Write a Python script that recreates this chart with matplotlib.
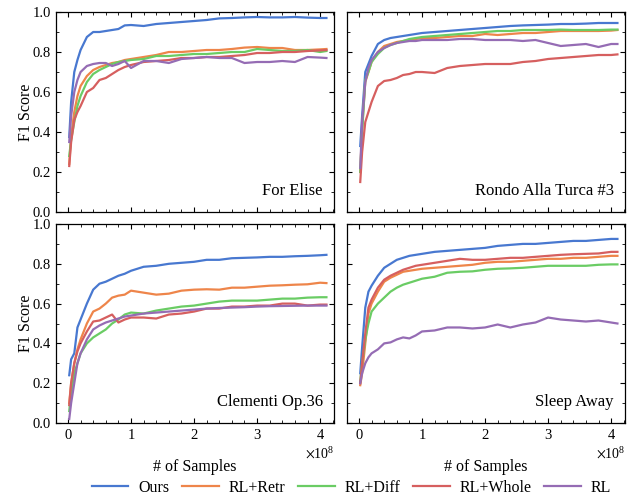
import matplotlib
matplotlib.use("Agg")
import matplotlib.pyplot as plt
from matplotlib.ticker import MultipleLocator, ScalarFormatter
from matplotlib.lines import Line2D

# x positions (in units of 1e8 samples)
steps = [0.02, 0.05, 0.1, 0.15, 0.2, 0.3, 0.4, 0.5, 0.6, 0.7, 0.8, 0.9, 1.0,
         1.2, 1.4, 1.6, 1.8, 2.0, 2.2, 2.4, 2.6, 2.8, 3.0, 3.2, 3.4, 3.6, 3.8, 4.0, 4.1]

methods = ["Ours", "RL+Retr", "RL+Diff", "RL+Whole", "RL"]
colors = ["#4878d0", "#ee854a", "#6acc64", "#d65f5f", "#956cb4"]
titles = ["For Elise", "Rondo Alla Turca #3", "Clementi Op.36", "Sleep Away"]

elise_ours = [0.375, 0.55, 0.70, 0.76, 0.81, 0.875, 0.90, 0.90, 0.905, 0.91, 0.915, 0.933, 0.935,
              0.93, 0.94, 0.945, 0.95, 0.955, 0.96, 0.968, 0.97, 0.973, 0.975, 0.973, 0.973, 0.975, 0.972, 0.97, 0.97]
elise_retr = [0.24, 0.38, 0.50, 0.58, 0.63, 0.68, 0.71, 0.725, 0.735, 0.745, 0.75, 0.76, 0.765,
              0.775, 0.785, 0.80, 0.80, 0.805, 0.81, 0.81, 0.815, 0.822, 0.825, 0.82, 0.82, 0.81, 0.81, 0.813, 0.815]
elise_diff = [0.28, 0.36, 0.45, 0.53, 0.58, 0.65, 0.69, 0.71, 0.725, 0.74, 0.75, 0.755, 0.76,
              0.765, 0.78, 0.78, 0.785, 0.79, 0.79, 0.795, 0.80, 0.80, 0.815, 0.81, 0.805, 0.805, 0.81, 0.80, 0.805]
elise_whole = [0.23, 0.35, 0.46, 0.50, 0.53, 0.60, 0.62, 0.66, 0.67, 0.69, 0.71, 0.725, 0.735,
               0.75, 0.755, 0.76, 0.77, 0.77, 0.775, 0.775, 0.78, 0.785, 0.795, 0.795, 0.80, 0.80, 0.805, 0.808, 0.81]
elise_rl = [0.35, 0.48, 0.60, 0.66, 0.70, 0.73, 0.74, 0.745, 0.745, 0.73, 0.74, 0.755, 0.72,
            0.755, 0.755, 0.745, 0.765, 0.77, 0.775, 0.77, 0.77, 0.745, 0.75, 0.75, 0.755, 0.75, 0.775, 0.772, 0.77]

rondo_ours = [0.33, 0.48, 0.70, 0.74, 0.78, 0.84, 0.86, 0.87, 0.875, 0.88, 0.885, 0.89, 0.895,
              0.90, 0.905, 0.91, 0.915, 0.92, 0.925, 0.93, 0.933, 0.935, 0.937, 0.94, 0.94, 0.942, 0.945, 0.945, 0.945]
rondo_retr = [0.20, 0.42, 0.65, 0.70, 0.75, 0.80, 0.83, 0.84, 0.85, 0.855, 0.86, 0.865, 0.87,
              0.87, 0.875, 0.88, 0.88, 0.89, 0.885, 0.89, 0.895, 0.895, 0.90, 0.905, 0.905, 0.905, 0.905, 0.907, 0.91]
rondo_diff = [0.20, 0.40, 0.66, 0.70, 0.75, 0.79, 0.82, 0.835, 0.845, 0.855, 0.865, 0.87, 0.875,
              0.88, 0.885, 0.89, 0.895, 0.90, 0.905, 0.905, 0.91, 0.91, 0.91, 0.912, 0.91, 0.91, 0.91, 0.912, 0.912]
rondo_whole = [0.15, 0.30, 0.45, 0.50, 0.55, 0.63, 0.655, 0.66, 0.67, 0.685, 0.69, 0.70, 0.70,
               0.695, 0.72, 0.73, 0.735, 0.74, 0.74, 0.74, 0.75, 0.755, 0.765, 0.77, 0.775, 0.78, 0.785, 0.785, 0.788]
rondo_rl = [0.22, 0.45, 0.65, 0.72, 0.76, 0.80, 0.82, 0.835, 0.845, 0.85, 0.855, 0.855, 0.86,
            0.86, 0.86, 0.865, 0.865, 0.86, 0.86, 0.86, 0.855, 0.86, 0.845, 0.83, 0.835, 0.84, 0.825, 0.84, 0.84]

clem_ours = [0.24, 0.32, 0.35, 0.48, 0.52, 0.60, 0.67, 0.70, 0.71, 0.725, 0.74, 0.75, 0.765,
             0.785, 0.79, 0.80, 0.805, 0.81, 0.82, 0.82, 0.828, 0.83, 0.832, 0.835, 0.835, 0.838, 0.84, 0.843, 0.845]
clem_retr = [0.10, 0.20, 0.30, 0.37, 0.42, 0.50, 0.56, 0.575, 0.60, 0.63, 0.64, 0.645, 0.665,
             0.655, 0.645, 0.65, 0.665, 0.67, 0.672, 0.67, 0.68, 0.68, 0.685, 0.69, 0.692, 0.695, 0.697, 0.705, 0.703]
clem_diff = [0.06, 0.15, 0.25, 0.30, 0.35, 0.40, 0.43, 0.45, 0.47, 0.50, 0.52, 0.545, 0.555,
             0.55, 0.565, 0.575, 0.585, 0.59, 0.60, 0.61, 0.615, 0.615, 0.615, 0.62, 0.625, 0.625, 0.63, 0.632, 0.632]
clem_whole = [0.09, 0.20, 0.30, 0.36, 0.40, 0.46, 0.51, 0.515, 0.53, 0.545, 0.505, 0.52, 0.53,
              0.53, 0.525, 0.545, 0.55, 0.56, 0.575, 0.575, 0.585, 0.585, 0.59, 0.59, 0.60, 0.60, 0.59, 0.595, 0.595]
clem_rl = [0.02, 0.10, 0.20, 0.30, 0.35, 0.42, 0.47, 0.49, 0.505, 0.515, 0.525, 0.535, 0.54,
           0.55, 0.555, 0.56, 0.565, 0.57, 0.575, 0.578, 0.58, 0.582, 0.585, 0.587, 0.588, 0.589, 0.59, 0.59, 0.59]

sleep_ours = [0.25, 0.38, 0.58, 0.66, 0.69, 0.74, 0.78, 0.80, 0.82, 0.83, 0.84, 0.845, 0.85,
              0.86, 0.865, 0.87, 0.875, 0.88, 0.89, 0.895, 0.90, 0.90, 0.905, 0.91, 0.915, 0.915, 0.92, 0.925, 0.925]
sleep_retr = [0.19, 0.25, 0.40, 0.55, 0.60, 0.66, 0.71, 0.73, 0.745, 0.76, 0.765, 0.77, 0.775,
              0.78, 0.785, 0.79, 0.795, 0.805, 0.81, 0.81, 0.815, 0.82, 0.825, 0.825, 0.83, 0.83, 0.835, 0.84, 0.84]
sleep_diff = [0.21, 0.30, 0.42, 0.50, 0.56, 0.60, 0.63, 0.66, 0.68, 0.695, 0.705, 0.715, 0.725,
              0.735, 0.755, 0.76, 0.762, 0.77, 0.775, 0.777, 0.78, 0.785, 0.79, 0.79, 0.79, 0.79, 0.795, 0.797, 0.797]
sleep_whole = [0.20, 0.30, 0.45, 0.58, 0.62, 0.68, 0.72, 0.74, 0.755, 0.77, 0.78, 0.79, 0.795,
               0.805, 0.815, 0.825, 0.82, 0.82, 0.825, 0.83, 0.83, 0.835, 0.84, 0.845, 0.848, 0.85, 0.852, 0.86, 0.86]
sleep_rl = [0.20, 0.25, 0.30, 0.33, 0.35, 0.37, 0.40, 0.405, 0.42, 0.43, 0.425, 0.44, 0.46,
            0.465, 0.48, 0.48, 0.475, 0.48, 0.495, 0.48, 0.495, 0.505, 0.53, 0.52, 0.515, 0.51, 0.515, 0.505, 0.50]

panels = [
    [elise_ours, elise_retr, elise_diff, elise_whole, elise_rl],
    [rondo_ours, rondo_retr, rondo_diff, rondo_whole, rondo_rl],
    [clem_ours, clem_retr, clem_diff, clem_whole, clem_rl],
    [sleep_ours, sleep_retr, sleep_diff, sleep_whole, sleep_rl],
]

plt.rcParams["font.family"] = ["Liberation Serif", "DejaVu Serif"]
plt.rcParams["mathtext.fontset"] = "stix"

fig = plt.figure(figsize=(6.42, 4.97), dpi=100)
W, H = 642, 497
boxes = [(56, 12, 334, 212), (347, 12, 625, 212), (56, 224, 334, 423), (347, 224, 625, 423)]

xs = [s * 1e8 for s in steps]
for i, (l, t, r, b) in enumerate(boxes):
    ax = fig.add_axes([l / W, 1 - b / H, (r - l) / W, (b - t) / H])
    for vals, c, m in zip(panels[i], colors, methods):
        ax.plot(xs, vals, color=c, lw=1.6, label=m)
    ax.set_xlim(-0.19e8, 4.22e8)
    ax.set_ylim(0, 1.0)
    ax.xaxis.set_major_locator(MultipleLocator(1e8))
    ax.xaxis.set_minor_locator(MultipleLocator(0.2e8))
    ax.yaxis.set_major_locator(MultipleLocator(0.2))
    ax.yaxis.set_minor_locator(MultipleLocator(0.1))
    fmt = ScalarFormatter(useMathText=True)
    ax.xaxis.set_major_formatter(fmt)
    ax.yaxis.set_major_formatter(plt.FuncFormatter(lambda v, p: f"{v:.1f}"))
    ax.tick_params(which="both", direction="in", top=True, right=True, labelsize=10.5)
    ax.tick_params(which="major", length=3.5, width=0.8)
    ax.tick_params(which="minor", length=2, width=0.6)
    for sp in ax.spines.values():
        sp.set_linewidth(0.9)
    ax.text(0.96, 0.065, titles[i], transform=ax.transAxes, ha="right", va="bottom", fontsize=12)
    if i % 2 == 0:
        ax.set_ylabel("F1 Score", fontsize=11.5, labelpad=-1)
    else:
        ax.tick_params(labelleft=False)
    if i < 2:
        ax.tick_params(labelbottom=False)
    else:
        ax.set_xlabel("# of Samples", fontsize=11.5, labelpad=12)
        ax.xaxis.get_offset_text().set_fontsize(10)

handles = [Line2D([0], [0], color=c, lw=1.6) for c in colors]
fig.legend(handles, methods, loc="center", bbox_to_anchor=(0.547, 0.018), ncol=5, frameon=False,
           fontsize=11.5, handlelength=2.3, columnspacing=0.8, handletextpad=0.6)

fig.savefig("out.png", dpi=100)
